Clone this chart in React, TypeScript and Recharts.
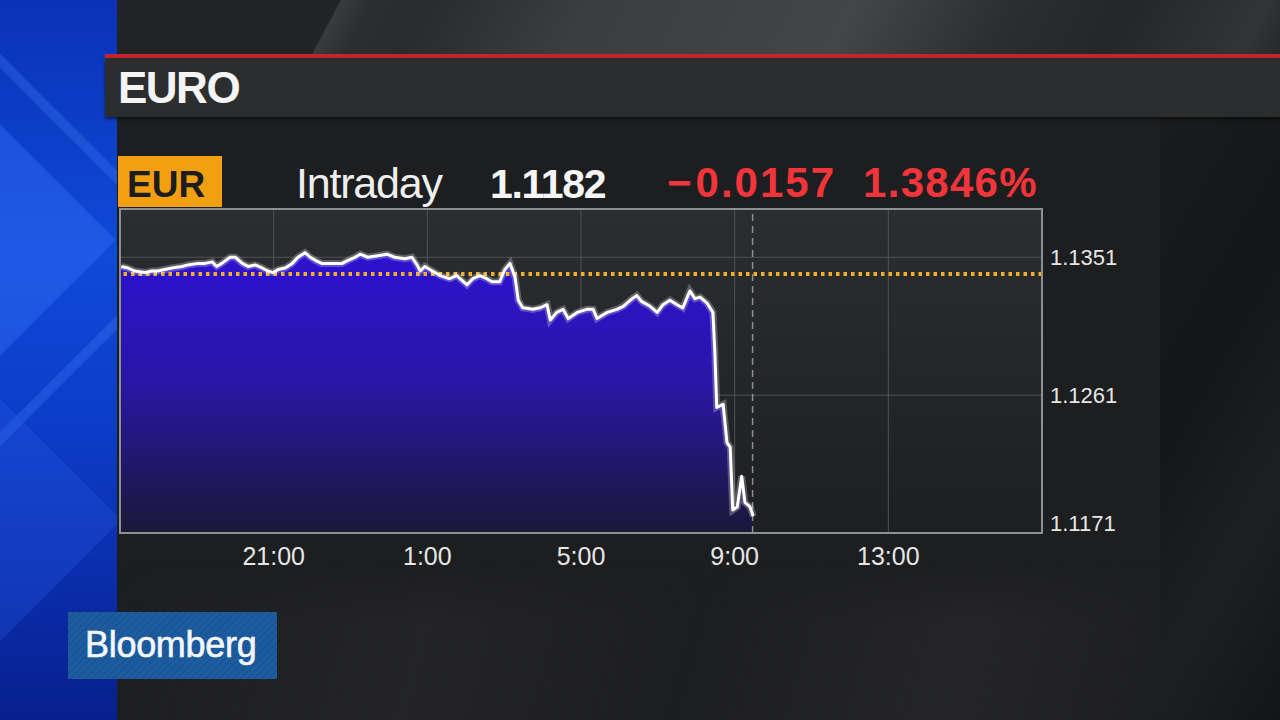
import React from 'react';
import {
  ComposedChart,
  Area,
  Line,
  XAxis,
  YAxis,
  CartesianGrid,
  ReferenceLine,
} from 'recharts';

// Minutes since the 17:00 session open (x axis spans 24 hours: 0..1440)
const minutesSinceOpen = [
  2, 12, 23, 39, 50, 59, 70, 81, 97, 106, 122, 133, 144, 151, 159, 172, 180, 191, 200, 211,
  222, 231, 239, 247, 258, 269, 278, 289, 297, 305, 315, 331, 347, 356, 367, 375, 387, 403, 417, 429,
  445, 456, 464, 469, 476, 484, 492, 500, 515, 526, 542, 551, 562, 573, 581, 593, 601, 609, 617, 622,
  629, 645, 656, 667, 672, 682, 692, 700, 714, 729, 739, 745, 761, 776, 786, 800, 807, 815, 828, 839,
  848, 859, 870, 879, 890, 898, 906, 917, 926, 929, 932, 942, 948, 953, 957, 964, 971, 976, 984, 989,
];

// EUR/USD intraday price
const eurUsd = [
  1.1345, 1.1344, 1.1342, 1.1341, 1.1342, 1.1342, 1.1343, 1.1344, 1.1345, 1.1346,
  1.1347, 1.1347, 1.1348, 1.1345, 1.1347, 1.1351, 1.1351, 1.1347, 1.1345, 1.1346,
  1.1344, 1.1342, 1.1341, 1.1343, 1.1344, 1.1347, 1.1351, 1.1354, 1.1351, 1.1349,
  1.1347, 1.1347, 1.1347, 1.1349, 1.1351, 1.1353, 1.1351, 1.1352, 1.1353, 1.1351,
  1.135, 1.1351, 1.1346, 1.1342, 1.1345, 1.1343, 1.1341, 1.1339, 1.1337, 1.1339,
  1.1333, 1.1337, 1.1339, 1.1337, 1.1335, 1.1335, 1.1343, 1.1347, 1.1338, 1.1323,
  1.1318, 1.1317, 1.1318, 1.132, 1.131, 1.1315, 1.1317, 1.1311, 1.1315, 1.1317,
  1.1317, 1.1311, 1.1315, 1.1317, 1.1319, 1.1324, 1.1326, 1.1322, 1.1319, 1.1315,
  1.132, 1.1323, 1.132, 1.1318, 1.1329, 1.1324, 1.1325, 1.1321, 1.1315, 1.129,
  1.1253, 1.1255, 1.123, 1.1227, 1.1186, 1.1188, 1.1208, 1.1191, 1.1188, 1.1182,
];

const xTicks = [240, 480, 720, 960, 1200];
const xTickLabels = ['21:00', '1:00', '5:00', '9:00', '13:00'];
const yTicks = [1.1171, 1.1261, 1.1351];
const yDomain = [1.1171, 1.13825];
const previousClose = 1.134;
const currentTime = 988;

const header = {
  title: 'EURO',
  ticker: 'EUR',
  period: 'Intraday',
  last: '1.1182',
  change: '0.0157',
  changePct: '1.3846%',
};

const data = minutesSinceOpen.map((t, i) => ({ t, price: eurUsd[i] }));

const FONT = "'Liberation Sans', Arial, Helvetica, sans-serif";

const PLOT = { left: 120, top: 209, right: 1042, bottom: 533 };
const Y_AXIS_W = 80;
const X_AXIS_H = 40;

const YTick = (props: any) => {
  const { x, y, payload } = props;
  const isBottom = payload.value === yTicks[0];
  return (
    <text
      x={x}
      y={y + (isBottom ? -10 : 0)}
      fill="#e6e6e6"
      fontSize={22}
      fontFamily={FONT}
      textAnchor="start"
      dominantBaseline="central"
    >
      {Number(payload.value).toFixed(4)}
    </text>
  );
};

const XTick = (props: any) => {
  const { x, y, payload } = props;
  const idx = xTicks.indexOf(payload.value);
  return (
    <text
      x={x}
      y={y}
      dy={24}
      fill="#e6e6e6"
      fontSize={25}
      fontFamily={FONT}
      textAnchor="middle"
    >
      {xTickLabels[idx]}
    </text>
  );
};

const abs = (s: React.CSSProperties): React.CSSProperties => ({ position: 'absolute', ...s });

export default function App() {
  return (
    <div
      style={abs({
        left: 0,
        top: 0,
        width: 1280,
        height: 720,
        overflow: 'hidden',
        background: '#1d1e20',
        fontFamily: FONT,
      })}
    >
      {/* top striped band */}
      <div
        style={abs({
          left: 0,
          top: 0,
          width: 1280,
          height: 58,
          background:
            'linear-gradient(118deg, #232425 0px, #232425 300px, #3a3b3c 302px, #2c2d2e 330px, #2a2b2c 380px, #3c3d3e 520px, #444546 760px, #2c2d2e 900px, #252627 1000px, #333435 1120px, #1f2021 1180px)',
        })}
      />
      {/* right dark strip */}
      <div
        style={abs({
          left: 1160,
          top: 117,
          width: 120,
          height: 603,
          background: 'linear-gradient(120deg, #1a1b1c 0%, #151617 40%, #1e1f20 70%, #141516 100%)',
        })}
      />
      {/* lower panel shading */}
      <div
        style={abs({
          left: 117,
          top: 560,
          width: 1043,
          height: 160,
          background:
            'linear-gradient(105deg, rgba(40,41,43,0) 0%, rgba(40,41,43,0.6) 30%, rgba(30,31,33,0) 55%, rgba(42,43,45,0.6) 80%, rgba(30,31,33,0) 100%)',
          WebkitMaskImage: 'linear-gradient(180deg, transparent 0%, black 40%)',
          maskImage: 'linear-gradient(180deg, transparent 0%, black 40%)',
        })}
      />
      {/* left blue strip */}
      <div
        style={abs({
          left: 0,
          top: 0,
          width: 117,
          height: 720,
          background: 'linear-gradient(180deg, #0a32b8 0%, #0f4ad8 35%, #0c3cc8 60%, #081f8e 100%)',
          overflow: 'hidden',
        })}
      >
        <div
          style={abs({
            left: -150,
            top: 130,
            width: 220,
            height: 220,
            transform: 'rotate(45deg)',
            background: 'rgba(60,120,255,0.35)',
          })}
        />
        <div
          style={abs({
            left: -190,
            top: 90,
            width: 300,
            height: 300,
            transform: 'rotate(45deg)',
            border: '10px solid rgba(80,140,255,0.25)',
          })}
        />
        <div
          style={abs({
            left: -120,
            top: 420,
            width: 200,
            height: 200,
            transform: 'rotate(45deg)',
            background: 'rgba(40,90,230,0.3)',
          })}
        />
      </div>
      {/* header bar */}
      <div style={abs({ left: 105, top: 54, width: 1175, height: 4, background: '#c3262c' })} />
      <div
        style={abs({
          left: 105,
          top: 58,
          width: 1175,
          height: 59,
          background: '#2b2d2f',
          boxShadow: '0 2px 3px rgba(0,0,0,0.5)',
        })}
      />
      <div
        style={abs({
          left: 118,
          top: 66,
          fontSize: 44,
          lineHeight: '44px',
          fontWeight: 700,
          color: '#f4f4f4',
          letterSpacing: -1.5,
        })}
      >
        {header.title}
      </div>

      {/* quote line */}
      <div style={abs({ left: 118, top: 156, width: 104, height: 51, background: '#f29f12' })} />
      <div
        style={abs({
          left: 127,
          top: 166,
          fontSize: 37,
          lineHeight: '37px',
          fontWeight: 700,
          color: '#1d1d1d',
        })}
      >
        {header.ticker}
      </div>
      <div
        style={abs({
          left: 296,
          top: 162,
          fontSize: 43,
          lineHeight: '43px',
          color: '#eeeeee',
          letterSpacing: -1.2,
        })}
      >
        {header.period}
      </div>
      <div
        style={abs({
          left: 490,
          top: 164,
          fontSize: 41,
          lineHeight: '41px',
          fontWeight: 700,
          color: '#f6f6f6',
          letterSpacing: -1.3,
        })}
      >
        {header.last}
      </div>
      <div
        style={abs({
          left: 667,
          top: 162,
          fontSize: 42,
          lineHeight: '42px',
          fontWeight: 700,
          color: '#f2353a',
          whiteSpace: 'nowrap',
        })}
      >
        <span style={{ marginRight: 4 }}>{'\u2212'}</span>
        <span style={{ letterSpacing: 2 }}>{header.change}</span>
      </div>
      <div
        style={abs({
          left: 863,
          top: 162,
          fontSize: 42,
          lineHeight: '42px',
          fontWeight: 700,
          color: '#f2353a',
          letterSpacing: 1.3,
          whiteSpace: 'nowrap',
        })}
      >
        {header.changePct}
      </div>

      {/* chart */}
      <div style={abs({ left: 0, top: 0, width: 1280, height: 720 })}>
        <ComposedChart
          width={1280}
          height={720}
          data={data}
          margin={{
            top: PLOT.top,
            left: PLOT.left,
            right: 1280 - PLOT.right - Y_AXIS_W,
            bottom: 720 - PLOT.bottom - X_AXIS_H,
          }}
        >
          <defs>
            <linearGradient id="plotBg" x1="0" y1="0" x2="0" y2="1">
              <stop offset="0%" stopColor="#2b2d30" />
              <stop offset="100%" stopColor="#1e1f22" />
            </linearGradient>
            <linearGradient id="areaFill" x1="0" y1="0" x2="0" y2="1">
              <stop offset="0%" stopColor="#2e12cf" />
              <stop offset="45%" stopColor="#2a16a8" />
              <stop offset="100%" stopColor="#1b1838" />
            </linearGradient>
          </defs>
          <CartesianGrid
            fill="url(#plotBg)"
            stroke="#505256"
            strokeWidth={1}
            horizontal
            vertical
          />
          <XAxis
            type="number"
            dataKey="t"
            domain={[0, 1440]}
            ticks={xTicks}
            axisLine={false}
            tickLine={false}
            tick={<XTick />}
            height={X_AXIS_H}
            allowDataOverflow
          />
          <YAxis
            type="number"
            orientation="right"
            domain={yDomain}
            ticks={yTicks}
            axisLine={false}
            tickLine={false}
            tick={<YTick />}
            width={Y_AXIS_W}
            allowDataOverflow
          />
          <Area
            type="linear"
            dataKey="price"
            stroke="none"
            fill="url(#areaFill)"
            fillOpacity={1}
            isAnimationActive={false}
            zIndex={100}
          />
          <ReferenceLine
            y={previousClose}
            stroke="#f2b02a"
            strokeWidth={4}
            strokeDasharray="3.5 4"
            zIndex={150}
          />
          <ReferenceLine
            x={currentTime}
            stroke="#8e8e8e"
            strokeWidth={1.5}
            strokeDasharray="7 5"
            zIndex={150}
          />
          <Line
            type="linear"
            dataKey="price"
            stroke="rgba(255,255,255,0.25)"
            strokeWidth={7}
            dot={false}
            activeDot={false}
            isAnimationActive={false}
            zIndex={390}
          />
          <Line
            type="linear"
            dataKey="price"
            stroke="#ffffff"
            strokeWidth={3}
            strokeLinejoin="round"
            dot={false}
            activeDot={false}
            isAnimationActive={false}
            zIndex={400}
          />
        </ComposedChart>
      </div>
      {/* plot frame */}
      <div
        style={abs({
          left: PLOT.left - 1,
          top: PLOT.top - 1,
          width: PLOT.right - PLOT.left - 2,
          height: PLOT.bottom - PLOT.top - 2,
          border: '2px solid #8d8f91',
          pointerEvents: 'none',
        })}
      />

      {/* Bloomberg logo */}
      <div
        style={abs({
          left: 68,
          top: 612,
          width: 209,
          height: 67,
          background:
            'repeating-linear-gradient(135deg, #1d5c9f 0px, #1d5c9f 3px, #1a5596 3px, #1a5596 5px)',
        })}
      />
      <div
        style={abs({
          left: 85,
          top: 627,
          fontSize: 36,
          lineHeight: '36px',
          color: '#f4f6f8',
          letterSpacing: -0.3,
          WebkitTextStroke: '0.6px #f4f6f8',
        })}
      >
        Bloomberg
      </div>
    </div>
  );
}
